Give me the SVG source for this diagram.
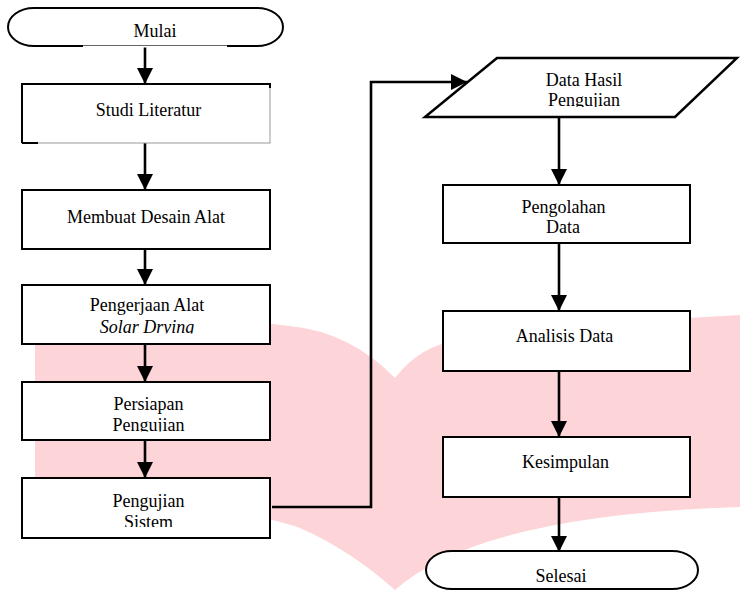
<svg xmlns="http://www.w3.org/2000/svg" width="740" height="590" viewBox="0 0 740 590">
<style>
.box{fill:#fff;stroke:#000;stroke-width:2}
.t{font-family:"Liberation Serif","Times New Roman",serif;font-size:18px;fill:#000;text-anchor:middle}
.it{font-style:italic}
.c{fill:none;stroke:#000;stroke-width:2.6}
.wm{fill:#FDD5D9;stroke:none}
</style>
<defs>
<marker id="ah" markerUnits="userSpaceOnUse" markerWidth="16" markerHeight="16" refX="16" refY="8" orient="auto">
<path d="M0,0 L16,8 L0,16 Z" fill="#000"/>
</marker>
<clipPath id="cp1"><rect x="0" y="0" width="740" height="333.5"/></clipPath>
<clipPath id="cp2"><rect x="0" y="0" width="740" height="431.5"/></clipPath>
<clipPath id="cp3"><rect x="0" y="0" width="740" height="527"/></clipPath>
<clipPath id="cp4"><rect x="0" y="0" width="740" height="107"/></clipPath>
</defs>
<rect width="740" height="590" fill="#fff"/>
<g id="watermark">
<path class="wm" d="M35,338 Q180,312 290,326 Q350,332 395,378 L395,590 Q350,550 300,528 C250,510 150,500 35,495 Z"/>
<path class="wm" d="M395,378 Q420,345 460,340 Q600,322 740,315 L740,507 Q480,515 395,590 Z"/>
</g>
<g id="connectors">
<line class="c" x1="145" y1="46" x2="145" y2="84" marker-end="url(#ah)"/>
<line class="c" x1="145" y1="143" x2="145" y2="190" marker-end="url(#ah)"/>
<line class="c" x1="145" y1="249" x2="145" y2="285" marker-end="url(#ah)"/>
<line class="c" x1="145" y1="344" x2="145" y2="382" marker-end="url(#ah)"/>
<line class="c" x1="145" y1="440" x2="145" y2="478" marker-end="url(#ah)"/>
<path class="c" d="M272,507 H371 V82 H467" marker-end="url(#ah)"/>
<line class="c" x1="559" y1="117" x2="559" y2="185" marker-end="url(#ah)"/>
<line class="c" x1="559" y1="243" x2="559" y2="311" marker-end="url(#ah)"/>
<line class="c" x1="559" y1="371" x2="559" y2="437" marker-end="url(#ah)"/>
<line class="c" x1="559" y1="497" x2="559" y2="552" marker-end="url(#ah)"/>
</g>
<g id="mulai">
<path class="box" d="M34,8 H257 A26,19 0 0 1 257,46 H34 A26,19 0 0 1 34,8 Z"/>
<line x1="83" y1="46" x2="227" y2="46" stroke="#fff" stroke-width="3"/>
<line x1="83" y1="45.5" x2="227" y2="45.5" stroke="#666" stroke-width="1"/>
<text class="t" x="155" y="37">Mulai</text>
</g>
<g id="studi-literatur">
<rect x="22" y="84" width="248" height="59" fill="#fff" stroke="#999" stroke-width="1"/>
<path d="M22,143 V84 H270 V88 M22,143 H38" fill="none" stroke="#000" stroke-width="2"/>
<text class="t" x="148.5" y="116">Studi Literatur</text>
</g>
<g id="membuat-desain">
<rect class="box" x="22" y="190" width="248" height="59"/>
<text class="t" x="146" y="223">Membuat Desain Alat</text>
</g>
<g id="pengerjaan">
<rect class="box" x="22" y="285" width="248" height="59"/>
<text class="t" x="147" y="311">Pengerjaan Alat</text>
<text class="t it" x="147" y="333" clip-path="url(#cp1)">Solar Drying</text>
</g>
<g id="persiapan">
<rect class="box" x="22" y="382" width="248" height="58"/>
<text class="t" x="148.5" y="410">Persiapan</text>
<text class="t" x="148.5" y="431" clip-path="url(#cp2)">Pengujian</text>
</g>
<g id="pengujian-sistem">
<rect class="box" x="22" y="478" width="248" height="60"/>
<text class="t" x="148.5" y="507">Pengujian</text>
<text class="t" x="148.5" y="528" clip-path="url(#cp3)">Sistem</text>
</g>
<g id="data-hasil">
<polygon points="497,58 737,58 675,117 425,117" fill="#fff" stroke="#000" stroke-width="2.5"/>
<text class="t" x="584" y="86">Data Hasil</text>
<text class="t" x="584" y="106" clip-path="url(#cp4)">Pengujian</text>
</g>
<g id="pengolahan">
<rect class="box" x="443" y="185" width="247" height="58"/>
<text class="t" x="563.5" y="213">Pengolahan</text>
<text class="t" x="563" y="233">Data</text>
</g>
<g id="analisis">
<rect class="box" x="443" y="311" width="247" height="60"/>
<text class="t" x="564.5" y="342">Analisis Data</text>
</g>
<g id="kesimpulan">
<rect class="box" x="443" y="437" width="247" height="60"/>
<text class="t" x="565.5" y="468">Kesimpulan</text>
</g>
<g id="selesai">
<path class="box" d="M452,551 H672 A26,19 0 0 1 672,589 H452 A26,19 0 0 1 452,551 Z"/>
<text class="t" x="561" y="582">Selesai</text>
</g>
</svg>
